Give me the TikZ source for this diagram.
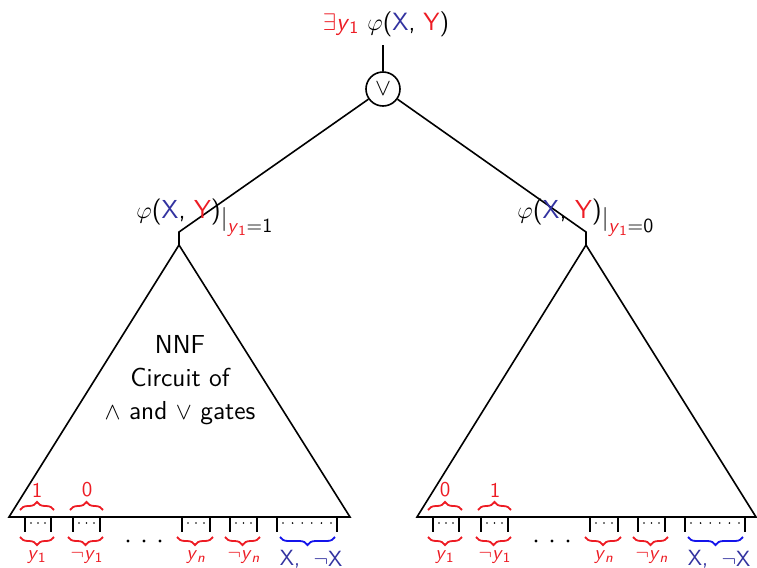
\documentclass[tikz,border=0pt]{standalone}
\usetikzlibrary{decorations.pathreplacing}
\definecolor{yr}{RGB}{237,28,36}
\definecolor{xb}{RGB}{50,50,160}
\definecolor{bb}{RGB}{20,20,235}
\newcommand{\vy}[1]{\textsl{y}\textsubscript{#1}}
\newcommand{\restr}[1]{\raisebox{-3.5pt}{$\big|$}\raisebox{-7pt}{\fontsize{10}{12}\selectfont\textcolor{yr}{\vy{1}}=#1}}
\tikzset{
  edge/.style={line width=0.8pt},
  lbl/.style={font=\sffamily\fontsize{13}{16}\selectfont, inner sep=0pt},
  small/.style={font=\sffamily\fontsize{10}{12}\selectfont, inner sep=0pt},
  brc/.style={decorate, line width=0.9pt},
  gate/.style={circle, draw, line width=0.8pt, minimum size=17pt, inner sep=0pt, font=\sffamily\fontsize{13}{15}\selectfont}
}
\begin{document}
\begin{tikzpicture}[x=0.5pt,y=-0.5pt]
\useasboundingbox (0,0) rectangle (757,568);
% top
\node[lbl, anchor=base, font=\sffamily\fontsize{12.5}{15}\selectfont] (top) at (386,30) {\textcolor{yr}{$\exists$\vy{1}} $\varphi$(\textcolor{xb}{X}, \textcolor{yr}{Y})};
\coordinate (tl) at (383,45);
\node[gate] (or) at (383,89) {$\vee$};
\draw[edge] (tl) -- (or);
% junctions
\coordinate (lj) at (179,232);
\coordinate (la) at (179,245);
\coordinate (rj) at (586,232);
\coordinate (ra) at (586,245);
\draw[edge] (or) -- (lj) -- (la);
\draw[edge] (or) -- (rj) -- (ra);
% triangles
\coordinate (lbl) at (9,517);
\coordinate (lbr) at (350,517);
\coordinate (rbl) at (417,517);
\coordinate (rbr) at (756,517);
\draw[edge] (la) -- (lbl) -- (lbr) -- cycle;
\draw[edge] (ra) -- (rbl) -- (rbr) -- cycle;
% labels
\node[lbl, anchor=base west] (ll) at (136,218) {$\varphi$(\textcolor{xb}{X}, \textcolor{yr}{Y})\restr{1}};
\node[lbl, anchor=base west] (rl) at (517,218) {$\varphi$(\textcolor{xb}{X}, \textcolor{yr}{Y})\restr{0}};
\node[lbl, align=center, font=\sffamily\fontsize{13}{16.5}\selectfont] (nnf) at (180,380) {NNF\\Circuit of\\$\wedge$ and $\vee$ gates};
% bottom parts
\foreach \o/\a/\b/\side in {0/1/0/l, 408/0/1/r}{
  \begin{scope}[xshift=\o*0.5pt]
  \foreach \xa/\xb in {25/51, 73/100, 182/210, 230/257}{
    \draw[edge] (\xa,517) -- (\xa,532);
    \draw[edge] (\xb,517) -- (\xb,532);
    \foreach \k in {0,1,2}{
      \fill ({\xa+6+\k*(\xb-\xa-12)/2},523) circle (0.45pt);
    }
    \draw[brc, yr, decoration={brace, mirror, amplitude=4pt}] ({\xa-5},537) -- ({\xb+3},537);
  }
  \draw[edge] (277,517) -- (277,532);
  \draw[edge] (337,517) -- (337,532);
  \foreach \k in {0,...,5}{
    \fill ({283+\k*48/5},523) circle (0.45pt);
  }
  \draw[brc, bb, decoration={brace, mirror, amplitude=4pt}] (280,537) -- (335,537);
  % upper braces
  \draw[brc, yr, decoration={brace, amplitude=4pt}] (20,510) -- (54,510);
  \draw[brc, yr, decoration={brace, amplitude=4pt}] (70,510) -- (103,510);
  \node[small, yr, font=\sffamily\fontsize{10.5}{12}\selectfont] (\side t1) at (37,490) {\a};
  \node[small, yr, font=\sffamily\fontsize{10.5}{12}\selectfont] (\side t2) at (87,490) {\b};
  % lower labels
  \node[small, yr] (\side b1) at (37,557) {\vy{1}};
  \node[small, yr] (\side b2) at (87,557) {$\neg$\vy{1}};
  \node[small, yr] (\side b3) at (196,557) {\vy{\textsl{n}}};
  \node[small, yr] (\side b4) at (244,557) {$\neg$\vy{\textsl{n}}};
  \node[lbl, xb, font=\sffamily\fontsize{11}{12}\selectfont] (\side b5) at (290,559) {X,};
  \node[lbl, xb, font=\sffamily\fontsize{11}{12}\selectfont] (\side b6) at (328,559) {$\neg$X};
  \foreach \k in {0,1,2}{
    \fill ({128+\k*16},541) circle (0.8pt);
  }
  \end{scope}
}
\end{tikzpicture}
\end{document}
